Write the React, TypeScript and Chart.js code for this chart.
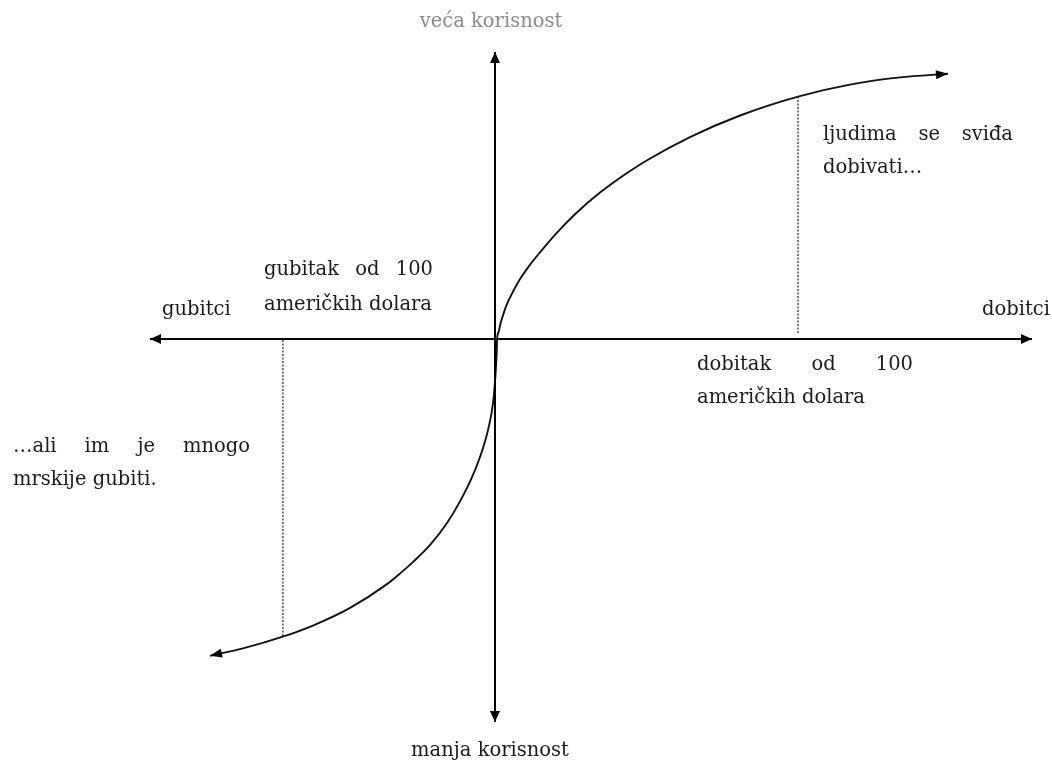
import React, { useEffect, useRef } from "react";
import { Chart, registerables } from "chart.js";

Chart.register(...registerables);

// Value function (prospect theory): outcome (x) vs utility (y)
const outcomes = [
  -95, -84, -70.7, -60.7, -48.3, -36, -31.7, -27.2, -21.7, -16.1, -11.7, -7.8, -4.4, -2.2, -0.6, 0.3, 0.6, 0.7,
  1.2, 1.8, 2.8, 3.8, 5, 8.3, 11.7, 15, 20.6, 27.2, 35, 42.8, 50.7, 65, 81.7, 101, 118.3, 135, 151,
];
const utilities = [
  -105.6, -103.1, -99.2, -95.5, -89.6, -81.7, -78.2, -74.2, -68.7, -61.5, -54.2, -46.4, -37.6, -29.8, -20.9, -9.8, -3.7, 0,
  2.3, 5, 8.3, 11.2, 13.8, 19.9, 24.8, 28.9, 35.4, 42.1, 48.8, 54.5, 59.6, 67.3, 74.5, 80.8, 84.8, 87.2, 88.4,
];

// Axis extents (data units)
const xAxisRange = [-115, 179];
const yAxisRange = [95.7, -127.7];

// Reference markers (gain / loss of 100 USD)
const gainMarkerX = 101;
const gainMarkerY = [2, 80.8];
const lossMarkerX = -70.7;
const lossMarkerY = [-0.3, -99.2];

// Texts
const axisTitles = ["veća korisnost", "manja korisnost", "gubitci", "dobitci"];
const gainLabel = ["dobitak od 100", "američkih dolara"];
const lossLabel = ["gubitak od 100", "američkih dolara"];
const gainNote = ["ljudima se sviđa", "dobivati…"];
const lossNote = ["…ali im je mnogo", "mrskije gubiti."];

const FONT = "19.5px 'DejaVu Serif', serif";
const TEXT = "#1a1a1a";

function drawJustified(ctx: CanvasRenderingContext2D, text: string, x0: number, x1: number, y: number) {
  const words = text.split(" ");
  const widths = words.map((w) => ctx.measureText(w).width);
  const total = widths.reduce((a, b) => a + b, 0);
  const gap = words.length > 1 ? (x1 - x0 - total) / (words.length - 1) : 0;
  let x = x0;
  ctx.textAlign = "left";
  words.forEach((w, i) => {
    ctx.fillText(w, x, y);
    x += widths[i] + gap;
  });
}

const arrowPlugin = {
  id: "arrowheads",
  afterDatasetsDraw(chart: any) {
    const ctx = chart.ctx as CanvasRenderingContext2D;
    chart.data.datasets.forEach((ds: any, i: number) => {
      if (!ds.arrows) return;
      const pts = chart.getDatasetMeta(i).data;
      const heads: Array<[any, any]> = [];
      if (ds.arrows === "end" || ds.arrows === "both") heads.push([pts[pts.length - 1], pts[pts.length - 2]]);
      if (ds.arrows === "start" || ds.arrows === "both") heads.push([pts[0], pts[1]]);
      const L = ds.arrowLength || 11;
      const W = ds.arrowHalfWidth || 4.5;
      heads.forEach(([tip, prev]) => {
        const ang = Math.atan2(tip.y - prev.y, tip.x - prev.x);
        ctx.save();
        ctx.translate(tip.x, tip.y);
        ctx.rotate(ang);
        ctx.beginPath();
        ctx.moveTo(0, 0);
        ctx.lineTo(-L, -W);
        ctx.lineTo(-L, W);
        ctx.closePath();
        ctx.fillStyle = "#000";
        ctx.fill();
        ctx.restore();
      });
    });
  },
};

const textPlugin = {
  id: "texts",
  afterDraw(chart: any) {
    const ctx = chart.ctx as CanvasRenderingContext2D;
    ctx.save();
    ctx.font = FONT;
    ctx.textBaseline = "middle";
    // axis titles
    ctx.textAlign = "center";
    ctx.fillStyle = "#8a8a8a";
    ctx.fillText(axisTitles[0], 491, 22);
    ctx.fillStyle = TEXT;
    ctx.fillText(axisTitles[1], 490, 751);
    ctx.textAlign = "left";
    ctx.fillText(axisTitles[2], 162, 310);
    ctx.textAlign = "right";
    ctx.fillText(axisTitles[3], 1050, 310);
    // loss label
    drawJustified(ctx, lossLabel[0], 264, 433, 270);
    ctx.fillText(lossLabel[1], 264, 305);
    // gain label
    drawJustified(ctx, gainLabel[0], 697, 913, 365);
    ctx.fillText(gainLabel[1], 697, 398);
    // notes
    drawJustified(ctx, gainNote[0], 823, 1013, 135);
    ctx.fillText(gainNote[1], 823, 168);
    drawJustified(ctx, lossNote[0], 13, 250, 447);
    ctx.fillText(lossNote[1], 13, 480);
    ctx.restore();
  },
};

export default function App() {
  const ref = useRef<HTMLCanvasElement>(null);
  useEffect(() => {
    if (!ref.current) return;
    const curve = outcomes.map((x, i) => ({ x, y: utilities[i] }));
    const chart = new Chart(ref.current, {
      type: "scatter",
      data: {
        datasets: [
          {
            data: [{ x: xAxisRange[0], y: 0 }, { x: xAxisRange[1], y: 0 }],
            showLine: true,
            borderColor: "#000",
            borderWidth: 2,
            pointRadius: 0,
            arrows: "both",
            arrowLength: 11,
            arrowHalfWidth: 5,
          } as any,
          {
            data: [{ x: 0, y: yAxisRange[0] }, { x: 0, y: yAxisRange[1] }],
            showLine: true,
            borderColor: "#000",
            borderWidth: 2,
            pointRadius: 0,
            arrows: "both",
            arrowLength: 11,
            arrowHalfWidth: 5,
          } as any,
          {
            data: [{ x: gainMarkerX, y: gainMarkerY[0] }, { x: gainMarkerX, y: gainMarkerY[1] }],
            showLine: true,
            borderColor: "#333",
            borderWidth: 1.3,
            borderDash: [2, 1.5],
            pointRadius: 0,
          },
          {
            data: [{ x: lossMarkerX, y: lossMarkerY[0] }, { x: lossMarkerX, y: lossMarkerY[1] }],
            showLine: true,
            borderColor: "#333",
            borderWidth: 1.3,
            borderDash: [2, 1.5],
            pointRadius: 0,
          },
          {
            data: curve,
            showLine: true,
            borderColor: "#111",
            borderWidth: 1.9,
            pointRadius: 0,
            cubicInterpolationMode: "monotone",
            arrows: "both",
            arrowLength: 12,
            arrowHalfWidth: 4.5,
          } as any,
        ],
      },
      options: {
        animation: false,
        responsive: true,
        maintainAspectRatio: false,
        layout: { padding: 0 },
        plugins: { legend: { display: false }, tooltip: { enabled: false } },
        events: [],
        scales: {
          x: { type: "linear", display: false, min: -165, max: 185.67 },
          y: { type: "linear", display: false, min: -141.33, max: 113 },
        },
      },
      plugins: [arrowPlugin, textPlugin],
    });
    return () => chart.destroy();
  }, []);
  return (
    <div style={{ position: "absolute", left: 0, top: 0, width: 1052, height: 763, background: "#fff" }}>
      <canvas ref={ref} />
    </div>
  );
}
